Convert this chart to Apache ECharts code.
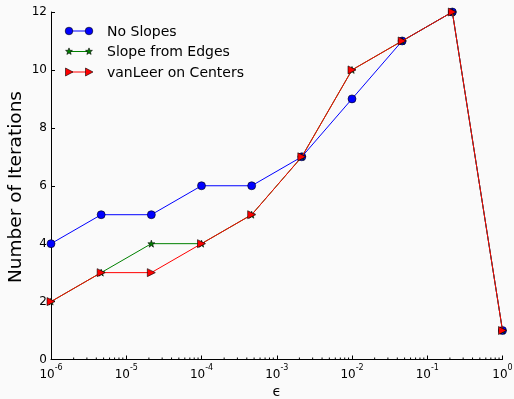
<!DOCTYPE html>
<html><head><meta charset="utf-8">
<script src="https://cdn.jsdelivr.net/npm/echarts@6/dist/echarts.min.js"></script>
<style>html,body{margin:0;padding:0;background:#fafafa}#c{width:514px;height:399px}</style>
</head><body><div id="c"></div>
<script>
const epsilons = [1e-6, 4.6416e-6, 2.1544e-5, 1e-4, 4.6416e-4, 2.1544e-3, 1e-2, 4.6416e-2, 2.1544e-1, 1];
const noSlopes = [4, 5, 5, 6, 6, 7, 9, 11, 12, 1];
const slopeEdges = [2, 3, 4, 4, 5, 7, 10, 11, 12, 1];
const vanLeer = [2, 3, 3, 4, 5, 7, 10, 11, 12, 1];
const seriesNames = ['No Slopes', 'Slope from Edges', 'vanLeer on Centers'];

const minorVals = [];
for (let e = -6; e < 0; e++) for (let m = 2; m <= 9; m++) minorVals.push(m * Math.pow(10, e));

const FONT = 'DejaVu Sans';
const STAR = 'path://M0,-10 L2.35,-3.24 L9.51,-3.09 L3.8,1.24 L5.88,8.09 L0,4 L-5.88,8.09 L-3.8,1.24 L-9.51,-3.09 L-2.35,-3.24 Z';
const pairs = a => epsilons.map((x, i) => [x, a[i]]);

function starPts(cx, cy, R) {
  const pts = [];
  for (let k = 0; k < 10; k++) {
    const r = k % 2 === 0 ? R : R * 0.42;
    const a = -Math.PI / 2 + k * Math.PI / 5;
    pts.push([cx + r * Math.cos(a), cy + r * Math.sin(a)]);
  }
  return pts;
}

const chart = echarts.init(document.getElementById('c'), null, {renderer: 'canvas'});

const legendItems = [
  {name: seriesNames[0], color: '#0000ff', kind: 'circle'},
  {name: seriesNames[1], color: '#008000', kind: 'star'},
  {name: seriesNames[2], color: '#ff0000', kind: 'tri'}
];
const graphics = [];
legendItems.forEach((it, i) => {
  const y = 31 + i * 20.5;
  graphics.push({type: 'line', shape: {x1: 69, y1: y, x2: 89, y2: y}, style: {stroke: it.color, lineWidth: 1}});
  [69, 89].forEach(x => {
    if (it.kind === 'circle') graphics.push({type: 'circle', shape: {cx: x, cy: y, r: 3.8}, style: {fill: it.color, stroke: '#000', lineWidth: 0.6}});
    else if (it.kind === 'tri') graphics.push({type: 'polygon', shape: {points: [[x - 3.5, y - 4], [x + 4, y], [x - 3.5, y + 4]]}, style: {fill: it.color, stroke: '#000', lineWidth: 0.6}});
    else graphics.push({type: 'polygon', shape: {points: starPts(x, y, 3.6)}, style: {fill: it.color, stroke: '#000', lineWidth: 0.6}});
  });
  graphics.push({type: 'text', x: 107, y: y + 1, style: {text: it.name, font: '14px "DejaVu Sans"', fill: '#000', verticalAlign: 'middle'}});
});
graphics.push({type: 'text', x: 16, y: 187, rotation: Math.PI / 2, style: {text: 'Number of Iterations', font: '18.5px "DejaVu Sans"', fill: '#000', align: 'center', verticalAlign: 'middle'}});

function mkLine(name, data, color, symbol, size, rot, z) {
  return {
    name: name, type: 'line', data: pairs(data), clip: false, z: z,
    symbol: symbol, symbolSize: size, symbolRotate: rot, showAllSymbol: true,
    lineStyle: {color: color, width: 1},
    itemStyle: {color: color, borderColor: '#000', borderWidth: 0.6},
    emphasis: {disabled: true}, animation: false
  };
}

chart.setOption({
  backgroundColor: '#fafafa',
  animation: false,
  textStyle: {fontFamily: FONT},
  grid: {left: 51, right: 11.5, top: 12, bottom: 39.5, containLabel: false, outerBoundsMode: 'none'},
  xAxis: {
    type: 'log', logBase: 10, min: 1e-6, max: 1, interval: 1,
    name: 'ϵ', nameLocation: 'middle', nameGap: 26,
    nameTextStyle: {fontSize: 14, color: '#000', fontFamily: FONT},
    axisLine: {lineStyle: {color: '#000', width: 1}},
    axisTick: {inside: true, length: 4, lineStyle: {color: '#000'}},
    splitLine: {show: false},
    axisLabel: {
      margin: 4, color: '#000',
      formatter: v => '{b|10}{s|' + Math.round(Math.log10(v)) + '}',
      rich: {b: {fontSize: 12, fontFamily: FONT, color: '#000', padding: [5, 0, 0, 0]}, s: {fontSize: 8, fontFamily: FONT, color: '#000', verticalAlign: 'top', padding: [0, 0, 6, 0]}}
    }
  },
  yAxis: {
    type: 'value', min: 0, max: 12, interval: 2,
    axisLine: {show: true, lineStyle: {color: '#000', width: 1}},
    axisTick: {show: true, inside: true, length: 4, lineStyle: {color: '#000'}},
    splitLine: {show: false},
    axisLabel: {margin: 4, color: '#000', fontSize: 12, fontFamily: FONT}
  },
  graphic: graphics,
  series: [
    {
      type: 'custom', data: minorVals.map(v => [v, 0]), silent: true, z: 1,
      renderItem: (params, api) => {
        const p = api.coord([api.value(0), 0]);
        return {type: 'line', shape: {x1: p[0], y1: p[1], x2: p[0], y2: p[1] - 2}, style: {stroke: '#000', lineWidth: 1}};
      }
    },
    mkLine(seriesNames[0], noSlopes, '#0000ff', 'circle', 8, 0, 2),
    mkLine(seriesNames[1], slopeEdges, '#008000', STAR, 7, 0, 3),
    mkLine(seriesNames[2], vanLeer, '#ff0000', 'triangle', 8, -90, 4)
  ]
});
</script></body></html>
